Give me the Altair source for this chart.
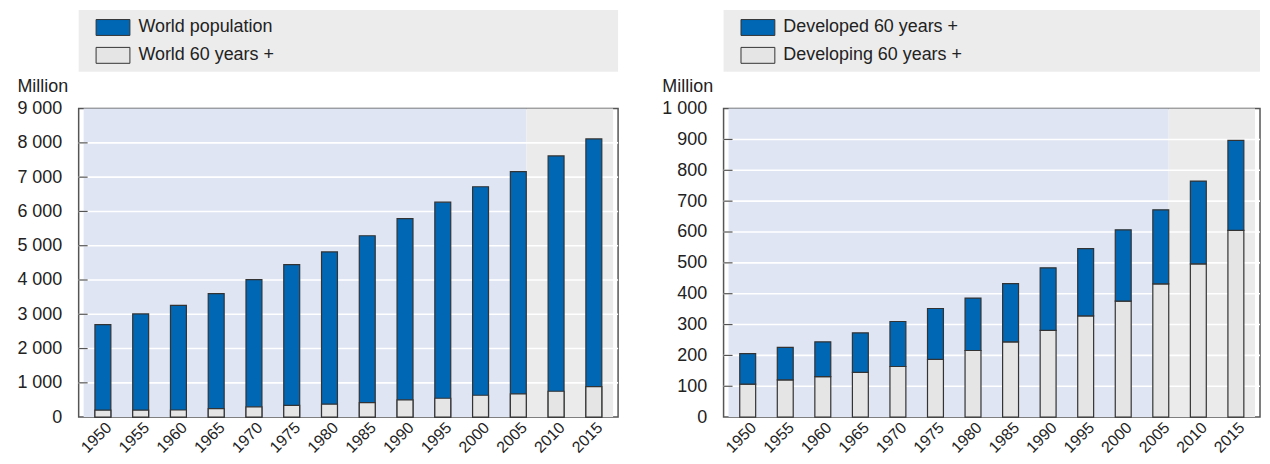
import altair as alt
import pandas as pd

# ---------------- data ----------------
years = [1950, 1955, 1960, 1965, 1970, 1975, 1980, 1985, 1990, 1995, 2000, 2005, 2010, 2015]
world_population = [2700, 3010, 3260, 3600, 4010, 4450, 4820, 5290, 5790, 6270, 6720, 7160, 7620, 8115]
world_60 = [203, 205, 208, 250, 300, 340, 377, 425, 503, 551, 638, 677, 754, 890]
developing_60 = [107, 121, 131, 145, 164, 187, 216, 244, 281, 328, 376, 432, 497, 605]
developed_60 = [99, 105, 113, 128, 146, 165, 170, 189, 203, 218, 231, 240, 268, 292]

left_series = ["World population", "World 60 years +"]
right_series = ["Developed 60 years +", "Developing 60 years +"]
left_ticks = [0, 1000, 2000, 3000, 4000, 5000, 6000, 7000, 8000, 9000]
right_ticks = [0, 100, 200, 300, 400, 500, 600, 700, 800, 900, 1000]

x_domain = [1947.45, 2017.55]
projection_start = 2006.05  # shading changes right after the 2005 bar

# ---------------- style ----------------
BLUE = "#0067b4"
GREY_BAR = "#e5e5e5"
HIST_BG = "#dfe5f3"
PROJ_BG = "#ebebeb"
LEGEND_BG = "#ececec"
EDGE = "#333333"
FONT = "Liberation Sans"
TXT = "#222222"
W1, W2, H = 542, 539, 310

legend_path = "M-1,-0.47L1,-0.47L1,0.47L-1,0.47Z"

shade_df = pd.DataFrame({
    "year": [x_domain[0], projection_start],
    "end": [projection_start, x_domain[1]],
    "period": ["hist", "proj"],
})


def x_enc():
    return alt.X(
        "year:Q",
        scale=alt.Scale(domain=x_domain, nice=False, zero=False),
        axis=alt.Axis(
            values=years, format="d", labelAngle=-45, labelAlign="right", labelBaseline="top",
            ticks=False, domain=False, grid=False, labelPadding=2, labelOverlap=False,
            labelFlush=False, title=None, labelFontSize=16,
        ),
    )


def y_enc(field, ticks, ymax):
    return alt.Y(
        field,
        stack=None,
        scale=alt.Scale(domain=[0, ymax], nice=False),
        axis=alt.Axis(
            values=ticks, grid=False, ticks=False, domain=False, labelPadding=17,
            labelExpr="replace(format(datum.value, ','), ',', ' ')",
            title="Million", titleAngle=0, titleAlign="left", titleBaseline="alphabetic",
            titleX=-62, titleY=-17, titleFontWeight="normal",
        ),
    )


def legend():
    return alt.Legend(
        title=None, orient="none", legendX=17, legendY=-99, symbolType=legend_path,
        symbolSize=1156, symbolStrokeColor=EDGE, symbolStrokeWidth=1, symbolOpacity=1,
        labelOffset=8, rowPadding=0, padding=0, labelLimit=400,
    )


def panel(bars_layer, ticks, width, ymax):
    legend_box = alt.Chart(pd.DataFrame({"a": [0]})).mark_rect(color=LEGEND_BG).encode(
        x=alt.value(0), x2=alt.value(width), y=alt.value(-99), y2=alt.value(-37)
    )
    hist = alt.Chart(shade_df).transform_filter("datum.period == 'hist'").mark_rect(color=HIST_BG).encode(
        x=x_enc(), x2="end:Q"
    )
    proj = alt.Chart(shade_df).transform_filter("datum.period == 'proj'").mark_rect(color=PROJ_BG).encode(
        x=x_enc(), x2="end:Q"
    )
    grid_df = pd.DataFrame({"v": ticks[1:-1]})
    grid = alt.Chart(grid_df).mark_rule(color="white", strokeWidth=1.6).encode(
        y=y_enc("v:Q", ticks, ymax)
    )
    tick = alt.Chart(grid_df).mark_rule(color="#555555", strokeWidth=1.2).encode(
        y=y_enc("v:Q", ticks, ymax), x=alt.value(0), x2=alt.value(9)
    )
    return alt.layer(legend_box, hist, proj, grid, tick, bars_layer).properties(width=width, height=H)


# left panel: overlaid bars
left_df = pd.DataFrame({
    "year": years * 2,
    "value": world_population + world_60,
    "series": [left_series[0]] * len(years) + [left_series[1]] * len(years),
    "z": [0] * len(years) + [1] * len(years),
})
left_bars = alt.Chart(left_df).mark_bar(width=16, stroke=EDGE, strokeWidth=1.2, orient="vertical").encode(
    x=x_enc(),
    y=y_enc("value:Q", left_ticks, 9000),
    color=alt.Color("series:N", scale=alt.Scale(domain=left_series, range=[BLUE, GREY_BAR]), legend=legend()),
    order=alt.Order("z:Q"),
)

# right panel: stacked bars (developing bottom)
base_dev = [0] * len(years)
top_developed = [a + b for a, b in zip(developing_60, developed_60)]
right_df = pd.DataFrame({
    "year": years * 2,
    "bottom": base_dev + developing_60,
    "top": developing_60 + top_developed,
    "series": [right_series[1]] * len(years) + [right_series[0]] * len(years),
})
right_bars = alt.Chart(right_df).mark_bar(width=16, stroke=EDGE, strokeWidth=1.2, orient="vertical").encode(
    x=x_enc(),
    y=y_enc("top:Q", right_ticks, 1000),
    y2="bottom:Q",
    color=alt.Color("series:N", scale=alt.Scale(domain=right_series, range=[BLUE, GREY_BAR]), legend=legend()),
)

left = panel(left_bars, left_ticks, W1, 9000)
right = panel(right_bars, right_ticks, W2, 1000)

chart = (
    alt.hconcat(left, right, spacing=41)
    .resolve_scale(color="independent", x="independent", y="independent")
    .resolve_legend(color="independent")
    .properties(padding={"left": 8, "top": 0, "right": 0, "bottom": 0})
    .configure_view(stroke="#555555", strokeWidth=1.5)
    .configure_axis(labelFont=FONT, labelFontSize=18, labelColor=TXT, titleFont=FONT,
                    titleFontSize=18, titleColor=TXT)
    .configure_legend(labelFont=FONT, labelFontSize=18, labelColor=TXT)
)

chart.save("out.html", embed_options={"renderer": "svg", "actions": False})
